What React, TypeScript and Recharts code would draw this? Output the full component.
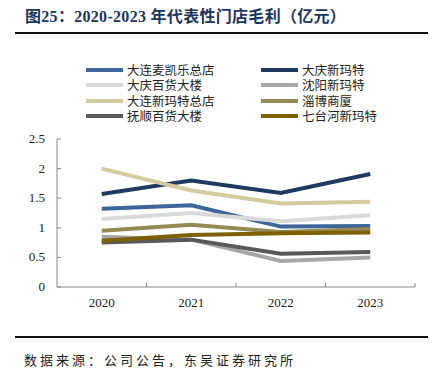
import { LineChart, Line, XAxis, YAxis } from 'recharts';

const years = ['2020', '2021', '2022', '2023'];
const seriesNames = [
  '大连麦凯乐总店',
  '大庆新玛特',
  '大庆百货大楼',
  '沈阳新玛特',
  '大连新玛特总店',
  '淄博商厦',
  '抚顺百货大楼',
  '七台河新玛特',
];
const dalianMaikaile = [1.32, 1.38, 1.02, 1.03];
const daqingXinmate = [1.57, 1.8, 1.59, 1.91];
const daqingBaihuo = [1.15, 1.25, 1.11, 1.21];
const shenyangXinmate = [0.85, 0.8, 0.44, 0.5];
const dalianXinmate = [2.0, 1.63, 1.41, 1.44];
const ziboShangsha = [0.95, 1.05, 0.93, 0.98];
const fushunBaihuo = [0.75, 0.8, 0.56, 0.59];
const qitaiheXinmate = [0.78, 0.88, 0.91, 0.92];
const yTicks = [0, 0.5, 1, 1.5, 2, 2.5];

const seriesValues = [
  dalianMaikaile,
  daqingXinmate,
  daqingBaihuo,
  shenyangXinmate,
  dalianXinmate,
  ziboShangsha,
  fushunBaihuo,
  qitaiheXinmate,
];
const colors = ['#3C6598', '#1F3A60', '#D9D9D9', '#A6A6A6', '#D3CA9F', '#948A54', '#595959', '#7F6000'];

const data = years.map((year, i) => {
  const row: Record<string, string | number> = { year };
  seriesNames.forEach((name, s) => (row[name] = seriesValues[s][i]));
  return row;
});

const serif = '"Times New Roman", "Liberation Serif", "Noto Sans CJK SC", serif';
const PLOT_LEFT = 57;
const PLOT_RIGHT = 415;
const PLOT_TOP = 139;
const PLOT_BOTTOM = 287;
const BAND = (PLOT_RIGHT - PLOT_LEFT) / years.length;

function YTick(props: any) {
  const { y, payload } = props;
  return (
    <g>
      <line x1={PLOT_LEFT} x2={PLOT_LEFT + 4} y1={y} y2={y} stroke="#888" />
      <text x={45} y={y} dy={4} textAnchor="end" fontSize={13} fill="#222" fontFamily={serif}>
        {payload.value}
      </text>
    </g>
  );
}

function XTick(props: any) {
  const { x, payload } = props;
  return (
    <g>
      <line x1={x + BAND / 2} x2={x + BAND / 2} y1={PLOT_BOTTOM} y2={PLOT_BOTTOM - 4} stroke="#888" />
      <text x={x} y={307} textAnchor="middle" fontSize={13} fill="#222" fontFamily={serif}>
        {payload.value}
      </text>
    </g>
  );
}

export default function App() {
  return (
    <div style={{ position: 'absolute', left: 0, top: 0, width: 441, height: 377, background: '#fff', fontFamily: serif }}>
      <div style={{ position: 'absolute', left: 25, top: 7, fontSize: 16, lineHeight: '20px', letterSpacing: 0.3, fontWeight: 'bold', color: '#1B365D', whiteSpace: 'nowrap' }}>
        图25：2020-2023 年代表性门店毛利（亿元）
      </div>
      <div style={{ position: 'absolute', left: 15, top: 32, width: 413, height: 2, background: '#111' }} />

      {seriesNames.map((name, i) => {
        const col = i % 2;
        const row = Math.floor(i / 2);
        const left = col === 0 ? 86 : 261;
        const top = 70 + row * 15.4;
        return (
          <div key={name} style={{ position: 'absolute', left, top: top - 7, height: 14, display: 'flex', alignItems: 'center', whiteSpace: 'nowrap' }}>
            <span style={{ display: 'block', width: 37, height: 4, background: colors[i], marginRight: 4 }} />
            <span style={{ display: 'block', height: 14, fontSize: 12.5, lineHeight: '14px', color: '#222', fontFamily: '"Noto Sans CJK SC", serif' }}>{name}</span>
          </div>
        );
      })}

      <div style={{ position: 'absolute', left: 0, top: 0 }}>
        <LineChart
          width={441}
          height={377}
          data={data}
          margin={{ top: PLOT_TOP, right: 441 - PLOT_RIGHT, bottom: 377 - PLOT_BOTTOM - 30, left: 0 }}
        >
          <XAxis dataKey="year" scale="band" height={30} stroke="#888" tickLine={false} tick={<XTick />} interval={0} />
          <YAxis width={PLOT_LEFT} domain={[0, 2.5]} ticks={yTicks} stroke="#888" tickLine={false} tick={<YTick />} interval={0} />
          {seriesNames.map((name, i) => (
            <Line
              key={name}
              dataKey={name}
              stroke={colors[i]}
              strokeWidth={4}
              dot={false}
              activeDot={false}
              isAnimationActive={false}
            />
          ))}
        </LineChart>
      </div>

      <div style={{ position: 'absolute', left: 15, top: 336, width: 413, height: 2, background: '#111' }} />
      <div style={{ position: 'absolute', left: 24, top: 351, fontSize: 13, lineHeight: '18px', letterSpacing: 3, color: '#222', fontFamily: '"Noto Sans CJK SC", serif', whiteSpace: 'nowrap' }}>
        数据来源：公司公告，东吴证券研究所
      </div>
    </div>
  );
}
